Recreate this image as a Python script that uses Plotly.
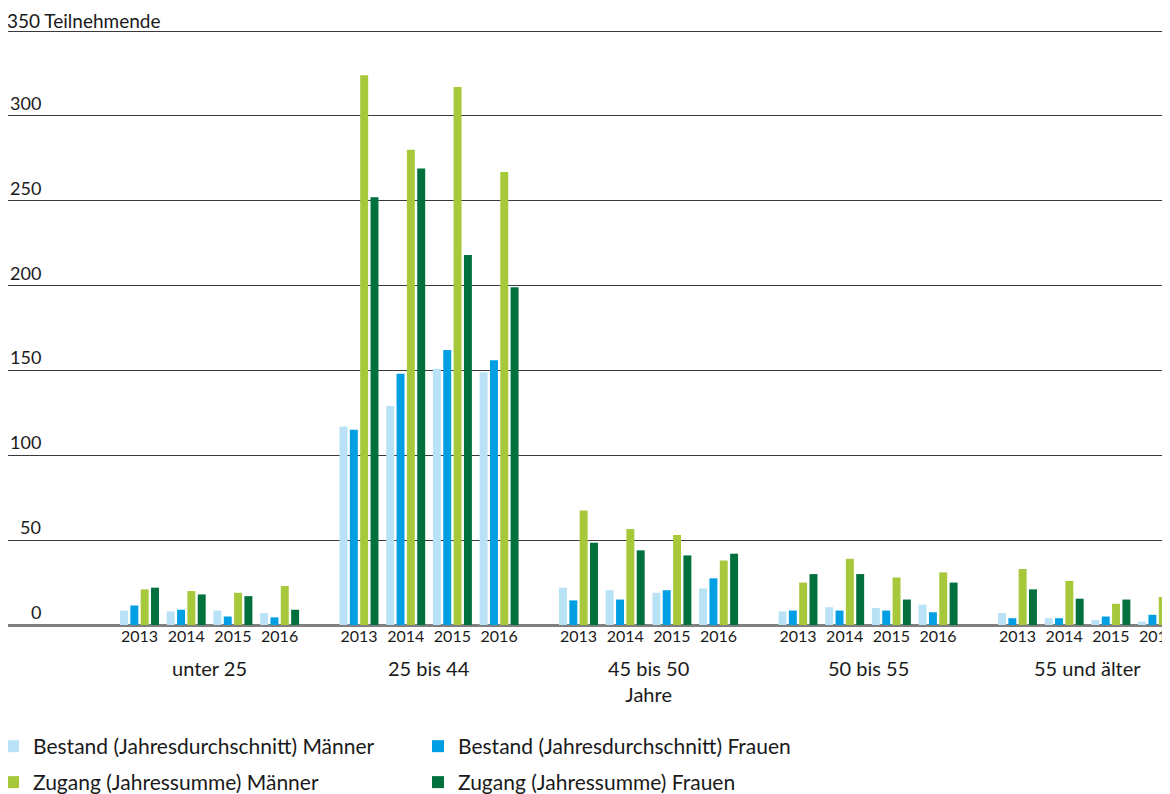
import plotly.graph_objects as go

# age groups and years
groups = ["unter 25", "25 bis 44", "45 bis 50<br>Jahre", "50 bis 55", "55 und älter"]
years = ["2013", "2014", "2015", "2016"]

# values per group, 2013..2016
bestand_maenner = [
    [8.5, 8, 8.5, 7],
    [117, 129, 151, 149],
    [22, 20.5, 19, 21.5],
    [8, 10.5, 10, 12],
    [7, 4, 3, 2],
]
bestand_frauen = [
    [11.5, 9, 5, 4.5],
    [115, 148, 162, 156],
    [14.5, 15, 20.5, 27.5],
    [8.5, 8.5, 8.5, 7.5],
    [4, 4, 5, 6],
]
zugang_maenner = [
    [21, 20, 19, 23],
    [324, 280, 317, 267],
    [67.5, 56.5, 53, 38],
    [25, 39, 28, 31],
    [33, 26, 12.5, 16.5],
]
zugang_frauen = [
    [22, 18, 17, 9],
    [252, 269, 218, 199],
    [48.5, 44, 41, 42],
    [30, 30, 15, 25],
    [21, 15.5, 15, 21],
]

y_ticks = [0, 50, 100, 150, 200, 250, 300, 350]
y_ticktext = ["0", "50", "100", "150", "200", "250", "300", "350 Teilnehmende"]

FONT = "Lato"
TXT = "#1a1a1a"
GROUP_STEP = 4.7

# x positions: one slot per year, groups spaced apart
xpos = [g * GROUP_STEP + i for g in range(len(groups)) for i in range(len(years))]
xtext = [y for _ in groups for y in years]


def flat(v):
    return [x for row in v for x in row]


series = [
    ("Bestand (Jahresdurchschnitt) Männer", bestand_maenner, "#b9e2f7", "legend"),
    ("Bestand (Jahresdurchschnitt) Frauen", bestand_frauen, "#009fe3", "legend"),
    ("Zugang (Jahressumme) Männer", zugang_maenner, "#a6c83a", "legend2"),
    ("Zugang (Jahressumme) Frauen", zugang_frauen, "#00703c", "legend2"),
]

fig = go.Figure()
for name, vals, color, leg in series:
    fig.add_trace(go.Bar(x=xpos, y=flat(vals), name=name, marker_color=color,
                         marker_line_width=0, legend=leg))

# group labels under the years
for g, label in enumerate(groups):
    fig.add_annotation(x=g * GROUP_STEP + 1.5, y=0, xref="x", yref="paper",
                       text=label, showarrow=False, yanchor="top", yshift=-29,
                       font=dict(family=FONT, size=20, color=TXT))

# y labels sitting on top of the grid lines
for v, t in zip(y_ticks, y_ticktext):
    if v == y_ticks[-1]:
        fig.add_annotation(x=0, y=v, xref="paper", yref="y", text=t, showarrow=False,
                           xanchor="left", xshift=-2, yanchor="middle", yshift=11,
                           borderpad=0, font=dict(family=FONT, size=19, color=TXT))
    else:
        fig.add_annotation(x=0, y=v, xref="paper", yref="y", text=t, showarrow=False,
                           xanchor="right", xshift=35, yanchor="bottom",
                           font=dict(family=FONT, size=18, color=TXT))

legend_style = dict(orientation="h", xref="container", yref="container",
                    xanchor="left", yanchor="top", x=0, indentation=-15,
                    font=dict(family=FONT, size=21, color=TXT),
                    entrywidth=395, itemwidth=30, bgcolor="rgba(0,0,0,0)")

fig.update_layout(
    width=1170, height=794,
    margin=dict(l=0, r=8, t=20, b=177),
    paper_bgcolor="white", plot_bgcolor="white",
    barmode="group", bargap=0.115, bargroupgap=0.23,
    font=dict(family=FONT, color=TXT),
    showlegend=True,
    legend=dict(legend_style, y=0.0957),
    legend2=dict(legend_style, y=0.0504),
    xaxis=dict(range=[-2.816, 22.066], tickvals=xpos, ticktext=xtext,
               tickfont=dict(family=FONT, size=16, color=TXT), ticks="",
               showgrid=False, zeroline=False, showline=False,
               automargin=False),
    yaxis=dict(range=[0, 351.8], tickvals=y_ticks, showticklabels=False,
               showgrid=True, gridcolor="#3a3a3a", gridwidth=1.3,
               zeroline=True, zerolinecolor="#808080", zerolinewidth=3,
               showline=False, ticks="", automargin=False),
)

fig.write_html("out.html")
